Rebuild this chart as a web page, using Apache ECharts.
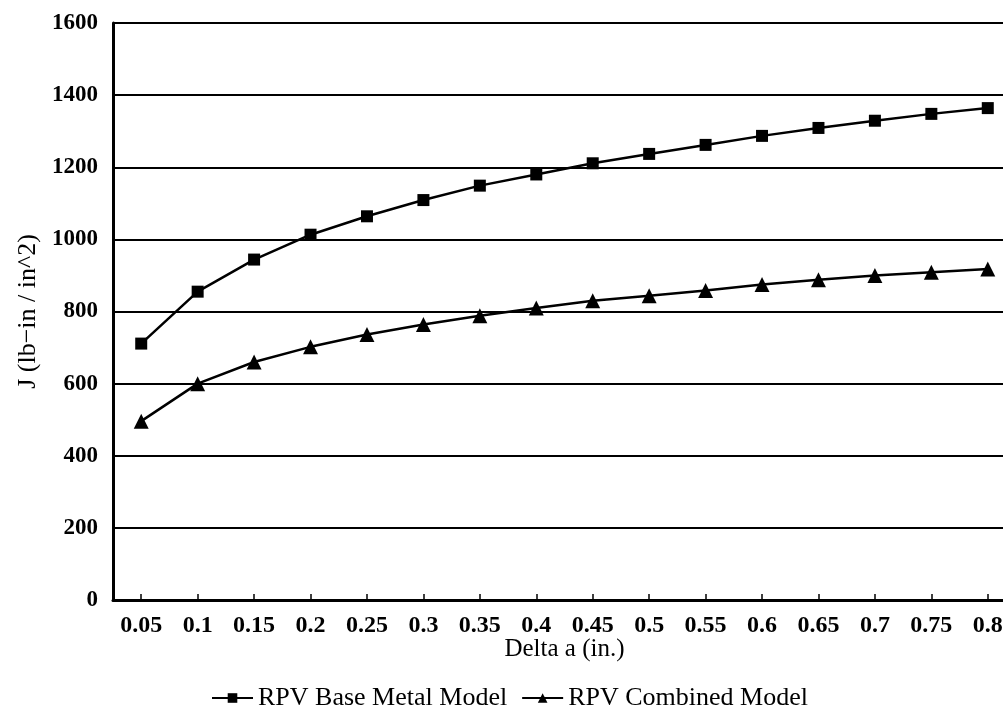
<!DOCTYPE html>
<html>
<head>
<meta charset="utf-8">
<script src="https://cdn.jsdelivr.net/npm/echarts@6/dist/echarts.min.js"></script>
<style>html,body{margin:0;padding:0;background:#fff;}#chart{width:1003px;height:711px;}</style>
</head>
<body>
<div id="chart"></div>
<script>
const categories = ['0.05','0.1','0.15','0.2','0.25','0.3','0.35','0.4','0.45','0.5','0.55','0.6','0.65','0.7','0.75','0.8'];
const baseMetal = [711, 855, 944, 1013, 1064, 1109, 1149, 1180, 1211, 1237, 1262, 1287, 1309, 1329, 1348, 1364];
const combined = [496, 600, 660, 702, 736, 764, 788, 810, 830, 844, 858, 875, 888, 900, 909, 918];
const yTicks = [0, 200, 400, 600, 800, 1000, 1200, 1400, 1600];

const serif = '"Liberation Serif", "DejaVu Serif", serif';
const chart = echarts.init(document.getElementById('chart'), null, {renderer: 'canvas'});
chart.setOption({
  animation: false,
  backgroundColor: '#ffffff',
  grid: {left: 113, top: 23, width: 903, bottom: 111, containLabel: false, outerBoundsMode: 'none'},
  legend: {
    left: 206, top: 680,
    itemWidth: 41, itemHeight: 12, itemGap: 14,
    textStyle: {fontFamily: serif, fontSize: 26, color: '#000'},
    data: ['RPV Base Metal Model', 'RPV Combined Model']
  },
  xAxis: {
    type: 'category',
    data: categories,
    boundaryGap: true,
    name: 'Delta a (in.)',
    nameLocation: 'middle',
    nameGap: 37,
    nameMoveOverlap: false,
    nameTextStyle: {fontFamily: serif, fontSize: 25, color: '#000'},
    axisLine: {lineStyle: {color: '#000', width: 3}},
    axisTick: {show: true, alignWithLabel: true, inside: true, length: 6, lineStyle: {color: '#000', width: 1.5}},
    axisLabel: {fontFamily: serif, fontSize: 24, fontWeight: 'bold', color: '#000', margin: 14},
    splitLine: {show: false}
  },
  yAxis: {
    type: 'value',
    min: yTicks[0], max: yTicks[yTicks.length - 1], interval: 200,
    name: 'J (lb\u2212in / in^2)',
    nameLocation: 'middle',
    nameGap: 72,
    nameRotate: 90,
    nameMoveOverlap: false,
    nameTextStyle: {fontFamily: serif, fontSize: 26, color: '#000'},
    axisLine: {show: true, lineStyle: {color: '#000', width: 3}},
    axisTick: {show: false},
    axisLabel: {fontFamily: serif, fontSize: 23, fontWeight: 'bold', color: '#000', margin: 15,
      formatter: function (v) { return String(v); }},
    splitLine: {show: true, lineStyle: {color: '#000', width: 2}}
  },
  series: [
    {
      name: 'RPV Base Metal Model',
      type: 'line',
      data: baseMetal,
      symbol: 'rect', symbolSize: 12,
      lineStyle: {color: '#000', width: 2.5},
      itemStyle: {color: '#000'},
      smooth: false
    },
    {
      name: 'RPV Combined Model',
      type: 'line',
      data: combined,
      symbol: 'triangle', symbolSize: 15,
      lineStyle: {color: '#000', width: 2.5},
      itemStyle: {color: '#000'},
      smooth: false
    }
  ]
});
</script>
</body>
</html>
